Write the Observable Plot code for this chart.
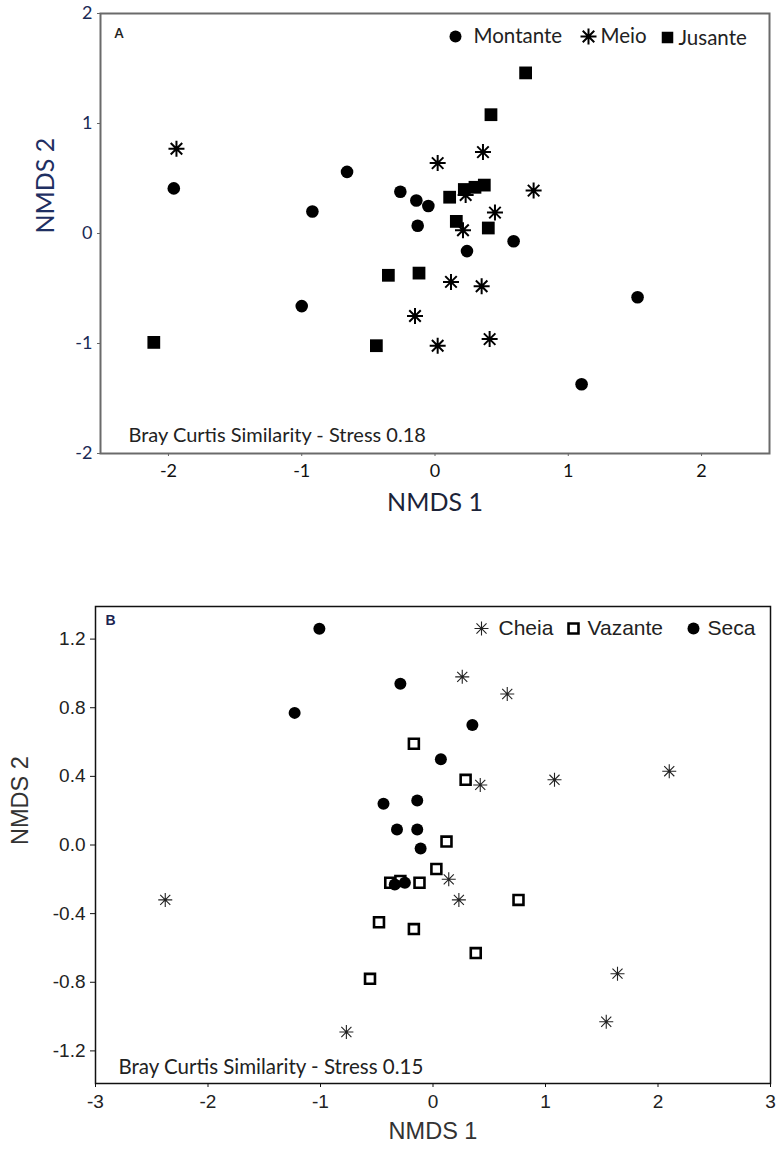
<!DOCTYPE html>
<html><head><meta charset="utf-8">
<script src="https://cdn.jsdelivr.net/npm/d3@7"></script>
<script src="https://cdn.jsdelivr.net/npm/@observablehq/plot@0.6"></script>
<style>
body{margin:0;background:#fff;}
#wrap{position:relative;width:776px;height:1153px;overflow:hidden;}
#a{position:absolute;left:0;top:0;}
#b{position:absolute;left:0;top:560px;}
svg{display:block;}
</style></head><body><div id="wrap"><div id="a"></div><div id="b"></div></div>
<script>
// ---------- Panel A (sites) ----------
const montanteX = [-1.96, -0.92, -0.66, -0.26, -0.14, -0.05, -0.13, 0.24, 0.59, -1.00, 1.52, 1.10];
const montanteY = [0.41, 0.20, 0.56, 0.38, 0.30, 0.25, 0.07, -0.16, -0.07, -0.66, -0.58, -1.37];
const meioX = [-1.94, 0.02, 0.36, 0.74, 0.45, 0.21, 0.23, 0.12, 0.35, -0.15, 0.02, 0.41];
const meioY = [0.77, 0.64, 0.74, 0.39, 0.19, 0.03, 0.35, -0.44, -0.48, -0.75, -1.02, -0.96];
const jusanteX = [0.68, 0.42, 0.11, 0.22, 0.30, 0.37, 0.16, 0.40, -0.35, -0.12, -2.11, -0.44];
const jusanteY = [1.46, 1.08, 0.33, 0.40, 0.42, 0.44, 0.11, 0.05, -0.38, -0.36, -0.99, -1.02];
const ticksA = [-2, -1, 0, 1, 2];
const legendA = ["Montante", "Meio", "Jusante"];

// ---------- Panel B (seasons) ----------
const cheiaX = [0.26, 0.66, 0.42, 1.08, 2.10, 0.14, 0.23, -2.38, 1.64, 1.54, -0.77];
const cheiaY = [0.98, 0.88, 0.35, 0.38, 0.43, -0.20, -0.32, -0.32, -0.75, -1.03, -1.09];
const vazanteX = [-0.17, 0.29, 0.12, 0.03, -0.38, -0.29, -0.12, 0.76, -0.48, -0.17, 0.38, -0.56];
const vazanteY = [0.59, 0.38, 0.02, -0.14, -0.22, -0.21, -0.22, -0.32, -0.45, -0.49, -0.63, -0.78];
const secaX = [-1.01, -0.29, -1.23, 0.35, 0.07, -0.44, -0.14, -0.32, -0.14, -0.11, -0.34, -0.25];
const secaY = [1.26, 0.94, 0.77, 0.70, 0.50, 0.24, 0.26, 0.09, 0.09, -0.02, -0.23, -0.22];
const ticksBx = [-3, -2, -1, 0, 1, 2, 3];
const ticksBy = [-1.2, -0.8, -0.4, 0.0, 0.4, 0.8, 1.2];
const legendB = ["Cheia", "Vazante", "Seca"];

const toRows = (xs, ys) => xs.map((x, i) => ({x, y: ys[i]}));

// 8-spoke asterisk symbol
function star8(diag) {
  return {
    draw(ctx, size) {
      const r = Math.sqrt(size / Math.PI);
      ctx.moveTo(-r, 0); ctx.lineTo(r, 0);
      ctx.moveTo(0, -r); ctx.lineTo(0, r);
      const d = r * diag;
      ctx.moveTo(-d, -d); ctx.lineTo(d, d);
      ctx.moveTo(-d, d); ctx.lineTo(d, -d);
    }
  };
}

const calib = "Lato, 'Open Sans', sans-serif";
const arial = "'Liberation Sans', Arial, sans-serif";

// ---------- Draw A ----------
const starA = star8(0.72);
const plotA = Plot.plot({
  width: 776, height: 530,
  marginLeft: 100, marginRight: 7, marginTop: 13, marginBottom: 77,
  x: {domain: [-2.51, 2.51]},
  y: {domain: [-2, 2]},
  style: {fontFamily: calib, background: "#fff"},
  marks: [
    Plot.frame({stroke: "#6a6a6a", strokeWidth: 2}),
    Plot.axisX({ticks: ticksA, tickSize: 3, tickPadding: 8, fontSize: 18, fontFamily: calib, color: "#111", stroke: "#666", tickFormat: d => String(d), label: null}),
    Plot.axisY({ticks: ticksA, tickSize: 3, tickPadding: 5, fontSize: 18, fontFamily: calib, color: "#1a2a55", stroke: "#666", tickFormat: d => String(d), label: null}),
    Plot.text(["NMDS 1"], {frameAnchor: "bottom", dy: 57, fontSize: 25, fill: "#1c2338", fontFamily: calib}),
    Plot.text(["NMDS 2"], {frameAnchor: "left", dx: -55, rotate: -90, fontSize: 25, fill: "#1f2f62", fontFamily: calib}),
    Plot.text(["A"], {frameAnchor: "top-left", dx: 14, dy: 20, lineAnchor: "middle", fontSize: 13, fontWeight: "bold", fill: "#222", fontFamily: calib}),
    Plot.text(["Bray Curtis Similarity - Stress 0.18"], {frameAnchor: "bottom-left", dx: 28, dy: -18, lineAnchor: "middle", textAnchor: "start", fontSize: 20, fill: "#222", fontFamily: calib}),
    // points
    Plot.dot(toRows(montanteX, montanteY), {x: "x", y: "y", r: 6.3, fill: "#000", symbol: "circle"}),
    Plot.dot(toRows(jusanteX, jusanteY), {x: "x", y: "y", r: 7.2, fill: "#000", symbol: "square"}),
    Plot.dot(toRows(meioX, meioY), {x: "x", y: "y", r: 8, fill: "none", stroke: "#000", strokeWidth: 2, symbol: starA}),
    // legend
    Plot.dot([legendA[0]], {frameAnchor: "top-left", dx: 355, dy: 23, r: 6, fill: "#000", symbol: "circle"}),
    Plot.text([legendA[0]], {frameAnchor: "top-left", dx: 373, dy: 23, lineAnchor: "middle", textAnchor: "start", fontSize: 20.5, fill: "#222", fontFamily: calib}),
    Plot.dot([legendA[1]], {frameAnchor: "top-left", dx: 488, dy: 23, r: 8, fill: "none", stroke: "#000", strokeWidth: 2, symbol: starA}),
    Plot.text([legendA[1]], {frameAnchor: "top-left", dx: 500, dy: 23, lineAnchor: "middle", textAnchor: "start", fontSize: 20.5, fill: "#222", fontFamily: calib}),
    Plot.dot([legendA[2]], {frameAnchor: "top-left", dx: 567, dy: 24, r: 6.5, fill: "#000", symbol: "square"}),
    Plot.text([legendA[2]], {frameAnchor: "top-left", dx: 578, dy: 25, lineAnchor: "middle", textAnchor: "start", fontSize: 20.5, fill: "#222", fontFamily: calib})
  ]
});
document.getElementById("a").appendChild(plotA);

// ---------- Draw B ----------
const starB = star8(0.72);
const plotB = Plot.plot({
  width: 776, height: 593,
  marginLeft: 95, marginRight: 6, marginTop: 46, marginBottom: 70,
  x: {domain: [-3, 3]},
  y: {domain: [-1.39, 1.39]},
  style: {fontFamily: arial, background: "#fff"},
  marks: [
    Plot.frame({stroke: "#111", strokeWidth: 1.5}),
    Plot.axisX({ticks: ticksBx, tickSize: 4, tickPadding: 7, fontSize: 19, fontFamily: arial, color: "#222", stroke: "#111", tickFormat: d => String(d), label: null}),
    Plot.axisY({ticks: ticksBy, tickSize: 5, tickPadding: 5, fontSize: 19, fontFamily: arial, color: "#222", stroke: "#111", tickFormat: d => d.toFixed(1), label: null}),
    Plot.text(["NMDS 1"], {frameAnchor: "bottom", dy: 55, fontSize: 23.5, fill: "#333", fontFamily: arial}),
    Plot.text(["NMDS 2"], {frameAnchor: "left", dx: -75, rotate: -90, fontSize: 23.5, fill: "#333", fontFamily: arial}),
    Plot.text(["B"], {frameAnchor: "top-left", dx: 10, dy: 14, lineAnchor: "middle", fontSize: 14, fontWeight: "bold", fill: "#1b2450", fontFamily: arial}),
    Plot.text(["Bray Curtis Similarity - Stress 0.15"], {frameAnchor: "bottom-left", dx: 23, dy: -16, lineAnchor: "middle", textAnchor: "start", fontSize: 20.5, fill: "#222", fontFamily: calib}),
    // points
    Plot.dot(toRows(cheiaX, cheiaY), {x: "x", y: "y", r: 7, fill: "none", stroke: "#222", strokeWidth: 1.1, symbol: starB}),
    Plot.dot(toRows(vazanteX, vazanteY), {x: "x", y: "y", r: 5.6, fill: "#fff", stroke: "#000", strokeWidth: 2.6, symbol: "square"}),
    Plot.dot(toRows(secaX, secaY), {x: "x", y: "y", r: 6, fill: "#000", symbol: "circle"}),
    // legend
    Plot.dot([legendB[0]], {frameAnchor: "top-left", dx: 386, dy: 22, r: 7, fill: "none", stroke: "#222", strokeWidth: 1.1, symbol: starB}),
    Plot.text([legendB[0]], {frameAnchor: "top-left", dx: 403, dy: 22, lineAnchor: "middle", textAnchor: "start", fontSize: 21, fill: "#222", fontFamily: arial}),
    Plot.dot([legendB[1]], {frameAnchor: "top-left", dx: 478, dy: 22, r: 5.6, fill: "#fff", stroke: "#000", strokeWidth: 2.6, symbol: "square"}),
    Plot.text([legendB[1]], {frameAnchor: "top-left", dx: 492, dy: 22, lineAnchor: "middle", textAnchor: "start", fontSize: 21, fill: "#222", fontFamily: arial}),
    Plot.dot([legendB[2]], {frameAnchor: "top-left", dx: 598, dy: 22, r: 6, fill: "#000", symbol: "circle"}),
    Plot.text([legendB[2]], {frameAnchor: "top-left", dx: 612, dy: 22, lineAnchor: "middle", textAnchor: "start", fontSize: 21, fill: "#222", fontFamily: arial})
  ]
});
document.getElementById("b").appendChild(plotB);
</script>
</body></html>
